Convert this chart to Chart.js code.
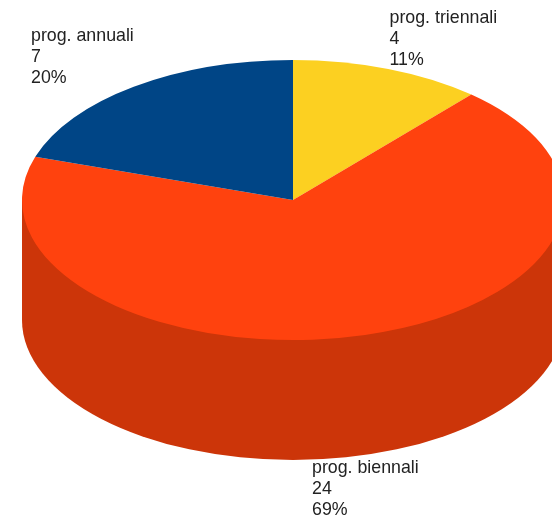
<!DOCTYPE html>
<html>
<head>
<meta charset="utf-8">
<script src="https://cdn.jsdelivr.net/npm/chart.js@4"></script>
<style>
  html, body { margin: 0; padding: 0; background: #fff; overflow: hidden; }
  #wrap { width: 552px; height: 521px; overflow: hidden; }
</style>
</head>
<body>
<div id="wrap"><canvas id="pie" width="586" height="542"></canvas></div>
<script>
const categories = ['prog. triennali', 'prog. biennali', 'prog. annuali'];
const counts = [4, 24, 7];
const percents = ['11%', '69%', '20%'];
const colors = ['#FCD021', '#FF420E', '#004586'];

const wallColor = '#CC3509';
const labelFont = '17.8px "Liberation Sans", Arial, sans-serif';
const labelSpots = [[389.5, 22.5], [312, 473], [31, 40.5]];
const lineGap = 21;

// fake 3d: squash the pie into an ellipse and put a wall under it
const squash = 140 / 271;
const centerY = 200;
const depth = 120;

const tiltPlugin = {
  id: 'tilt',
  beforeDatasetsDraw(chart) {
    const ctx = chart.ctx;
    const arc = chart.getDatasetMeta(0).data[0];
    const rx = arc.outerRadius;
    const ry = rx * squash;

    ctx.save();
    ctx.fillStyle = wallColor;
    ctx.beginPath();
    ctx.moveTo(arc.x - rx, centerY);
    ctx.lineTo(arc.x - rx, centerY + depth);
    ctx.ellipse(arc.x, centerY + depth, rx, ry, 0, Math.PI, 0, true);
    ctx.lineTo(arc.x + rx, centerY);
    ctx.closePath();
    ctx.fill();
    ctx.restore();

    ctx.save();
    ctx.translate(0, centerY);
    ctx.scale(1, squash);
    ctx.translate(0, -arc.y);
  },
  afterDatasetsDraw(chart) {
    chart.ctx.restore();
  },
  afterDraw(chart) {
    const ctx = chart.ctx;
    ctx.save();
    ctx.font = labelFont;
    ctx.fillStyle = '#222';
    ctx.textBaseline = 'alphabetic';
    categories.forEach((name, i) => {
      const [x, y] = labelSpots[i];
      ctx.fillText(name, x, y);
      ctx.fillText(String(counts[i]), x, y + lineGap);
      ctx.fillText(percents[i], x, y + lineGap * 2);
    });
    ctx.restore();
  }
};

new Chart(document.getElementById('pie'), {
  type: 'pie',
  data: {
    labels: categories,
    datasets: [{
      data: counts,
      backgroundColor: colors,
      borderWidth: 0
    }]
  },
  options: {
    responsive: false,
    animation: false,
    layout: { padding: 0 },
    plugins: { legend: { display: false }, tooltip: { enabled: false } }
  },
  plugins: [tiltPlugin]
});
</script>
</body>
</html>
